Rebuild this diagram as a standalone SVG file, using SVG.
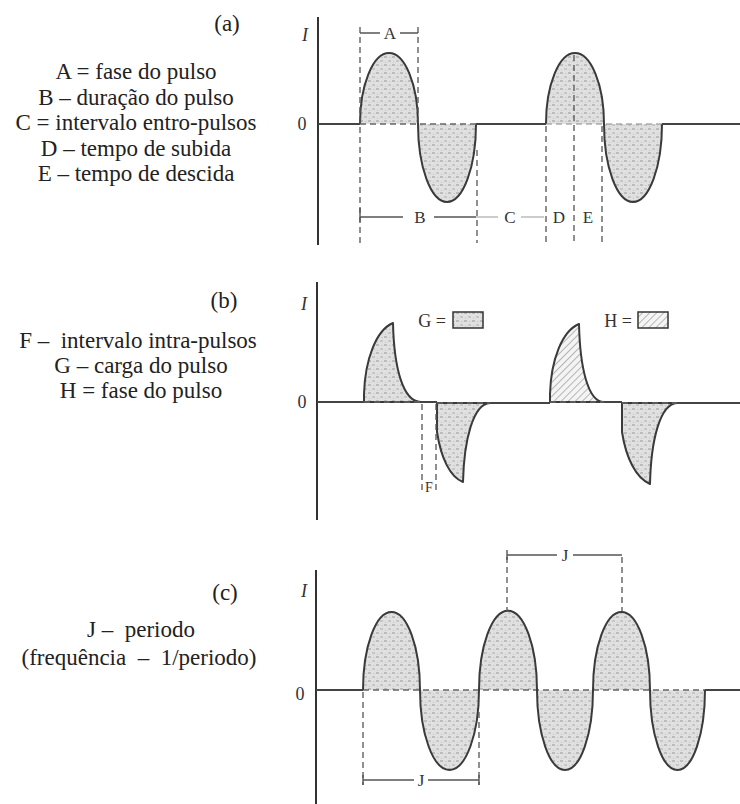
<svg xmlns="http://www.w3.org/2000/svg" width="740" height="804" viewBox="0 0 740 804">
<defs>
<pattern id="dots" width="8" height="8" patternUnits="userSpaceOnUse">
<rect width="8" height="8" fill="#e0e0e0"/>
<rect x="0" y="0" width="3" height="2" fill="#bcbcbc"/>
<rect x="4" y="4" width="3" height="2" fill="#c6c6c6"/>
<rect x="5" y="1" width="2" height="1" fill="#cccccc"/>
<rect x="1" y="5" width="1" height="2" fill="#d0d0d0"/>
</pattern>
<pattern id="hatch" width="5" height="5" patternUnits="userSpaceOnUse" patternTransform="rotate(45)">
<rect width="5" height="5" fill="#f4f4f4"/>
<line x1="0" y1="0" x2="0" y2="5" stroke="#8a8a8a" stroke-width="1.2"/>
</pattern>
<style>
.t{font-family:"Liberation Serif","Times New Roman",serif;fill:#222;font-size:23px;text-anchor:middle}
.l{font-family:"Liberation Serif","Times New Roman",serif;fill:#333;font-size:17px;text-anchor:middle}
.ax{font-family:"Liberation Serif","Times New Roman",serif;fill:#333;font-size:18px;font-style:italic;text-anchor:middle}
.z{font-family:"Liberation Serif","Times New Roman",serif;fill:#333;font-size:18px;text-anchor:middle}
.axis{stroke:#333;stroke-width:2;fill:none}
.base{stroke:#444;stroke-width:2;fill:none}
.dbase{stroke:#666;stroke-width:1.6;stroke-dasharray:6 4;fill:none}
.dash{stroke:#555;stroke-width:1.3;stroke-dasharray:6 4;fill:none}
.dashl{stroke:#888;stroke-width:1.2;stroke-dasharray:6 4;fill:none}
.wave{stroke:#3a3a3a;stroke-width:2;stroke-linejoin:round}
.sh{fill:url(#dots)}
.ht{fill:url(#hatch)}
.br{stroke:#555;stroke-width:1.4;fill:none}
.brl{stroke:#999;stroke-width:1.2;fill:none}
</style>
</defs>
<rect width="740" height="804" fill="#fff"/>

<!-- Panel (a) -->
<g id="panel-a-text">
<text class="t" x="227" y="31">(a)</text>
<text class="t" x="136" y="79">A = fase do pulso</text>
<text class="t" x="136" y="104.5">B – duração do pulso</text>
<text class="t" x="136" y="130">C = intervalo entro-pulsos</text>
<text class="t" x="136" y="155.5">D – tempo de subida</text>
<text class="t" x="136" y="181">E – tempo de descida</text>
</g>
<g id="panel-a-plot">
<line class="axis" x1="318" y1="17" x2="318" y2="245"/>
<text class="ax" x="305" y="41">I</text>
<text class="z" x="302" y="130">0</text>
<path class="sh" d="M360,124 A29,71 0 0 1 418,124 Z"/>
<path class="sh" d="M418,124 A29,78 0 0 0 476,124 Z"/>
<path class="sh" d="M546,124 A29,71 0 0 1 604,124 Z"/>
<path class="sh" d="M604,124 A29,78 0 0 0 662,124 Z"/>
<path fill="none" class="wave" d="M360,124 A29,71 0 0 1 418,124 A29,78 0 0 0 476,124"/>
<path fill="none" class="wave" d="M546,124 A29,71 0 0 1 604,124 A29,78 0 0 0 662,124"/>
<path class="base" d="M318,124 H360 M476,124 H546 M662,124 H740"/>
<path class="dbase" d="M360,124 H476"/>
<path class="dashl" d="M546,124 H662"/>
</g>
<g id="connectors-a">
<path class="dash" d="M360,27 V243 M418,27 V123 M477,150 V243 M546,126 V243 M574,55 V243 M602,126 V243"/>
<path class="br" d="M360,33 H380 M400,33 H418"/>
<text class="l" x="390" y="39">A</text>
<path class="br" d="M360,208 V222 M360,217 H403 M434,217 H476"/>
<path class="brl" d="M476,217 H498 M521,217 H544"/>
<text class="l" x="420" y="223">B</text>
<text class="l" x="510" y="223">C</text>
<text class="l" x="559" y="223">D</text>
<text class="l" x="588" y="223">E</text>
</g>

<!-- Panel (b) -->
<g id="panel-b-text">
<text class="t" x="224" y="308">(b)</text>
<text class="t" x="138" y="348" xml:space="preserve">F –  intervalo intra-pulsos</text>
<text class="t" x="141" y="373">G – carga do pulso</text>
<text class="t" x="141" y="398">H = fase do pulso</text>
</g>
<g id="panel-b-plot">
<line class="axis" x1="317" y1="282" x2="317" y2="520"/>
<text class="ax" x="304" y="310">I</text>
<text class="z" x="302" y="408">0</text>
<path class="sh wave" d="M364,402 L364,394 C365,360 376,330 393,323 C394,368 403,402 421,402 Z"/>
<path class="sh wave" d="M437,403 L437,432 C441,458 450,477 463,482 C464,440 473,404 490,403 Z"/>
<path class="ht wave" d="M550,402 L550,394 C551,360 562,331 579,324 C580,368 588,402 604,402 Z"/>
<path class="sh wave" d="M622,403 L622,432 C626,458 636,478 650,484 C651,440 660,404 677,403 Z"/>
<path class="base" d="M317,402 H364 M421,402 H437 M490,403 H550 M604,402 H622 M677,403 H740"/>
<path class="dbase" d="M364,402 H421 M437,403 H490 M550,402 H604 M622,403 H677"/>
</g>
<g id="connectors-b">
<path class="dash" d="M422,404 V494 M436,404 V494"/>
<text class="l" x="429" y="492" style="font-size:14px">F</text>
</g>
<g id="legend-b">
<text class="l" x="432" y="327" style="font-size:18px">G =</text>
<rect x="453" y="312" width="30" height="16" fill="url(#dots)" stroke="#333" stroke-width="1.5"/>
<text class="l" x="618" y="327" style="font-size:18px">H =</text>
<rect x="638" y="312" width="30" height="16" fill="url(#hatch)" stroke="#333" stroke-width="1.5"/>
</g>

<!-- Panel (c) -->
<g id="panel-c-text">
<text class="t" x="225" y="600">(c)</text>
<text class="t" x="141" y="637" xml:space="preserve">J –  periodo</text>
<text class="t" x="139" y="665" xml:space="preserve">(frequência  –  1/periodo)</text>
</g>
<g id="panel-c-plot">
<line class="axis" x1="316" y1="570" x2="316" y2="804"/>
<text class="ax" x="304" y="597">I</text>
<text class="z" x="300" y="700">0</text>
<path class="sh" d="M363,690 A28.5,78 0 0 1 420,690 Z M479,690 A28.5,78 0 0 1 537,690 Z M593,690 A28.5,78 0 0 1 650,690 Z"/>
<path class="sh" d="M420,690 A29.5,80 0 0 0 479,690 Z M537,690 A28,80 0 0 0 593,690 Z M650,690 A27.5,80 0 0 0 705,690 Z"/>
<path class="dbase" d="M363,690 H705"/>
<path fill="none" class="wave" d="M363,690 A28.5,78 0 0 1 420,690 A29.5,80 0 0 0 479,690 A28.5,78 0 0 1 537,690 A28,80 0 0 0 593,690 A28.5,78 0 0 1 650,690 A27.5,80 0 0 0 705,690"/>
<path class="base" d="M316,690 H363 M705,690 H740"/>
</g>
<g id="connectors-c">
<path class="dash" d="M507,557 V611 M622,557 V611"/>
<path class="br" d="M507,550 V560 M507,555 H557 M573,555 H622"/>
<text class="l" x="565" y="561">J</text>
<path class="dash" d="M363,692 V785 M479,712 V785"/>
<path class="br" d="M363,775 V785 M363,780 H414 M428,780 H479 M479,775 V785"/>
<text class="l" x="421" y="786">J</text>
</g>
</svg>
